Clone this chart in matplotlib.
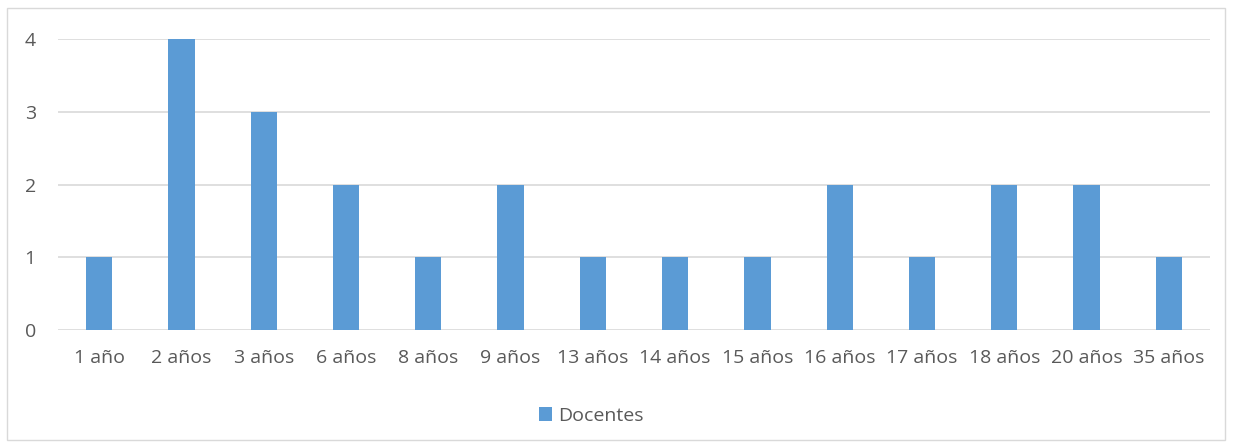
import matplotlib.pyplot as plt
from matplotlib.patches import Rectangle

categorias = ['1 año', '2 años', '3 años', '6 años', '8 años', '9 años', '13 años',
              '14 años', '15 años', '16 años', '17 años', '18 años', '20 años', '35 años']
docentes = [1, 4, 3, 2, 1, 2, 1, 1, 1, 2, 1, 2, 2, 1]
yticks = [0, 1, 2, 3, 4]

plt.rcParams['font.family'] = ['Open Sans', 'DejaVu Sans']
texto = '#595959'
W, H = 1233, 448

fig = plt.figure(figsize=(W / 100, H / 100), dpi=100)
fig.patches.append(Rectangle((7 / W, 8 / H), 1218 / W, 432 / H, transform=fig.transFigure,
                             fill=False, edgecolor='#D9D9D9', linewidth=1))

ax = fig.add_axes([58 / W, 1 - 330 / H, (1210 - 58) / W, (330 - 39) / H])
x = range(len(categorias))
ax.bar(x, docentes, width=0.32, color='#5B9BD5', label='Docentes', zorder=3)
ax.set_xlim(-0.5, len(categorias) - 0.5)
ax.set_ylim(0, 4)
ax.set_yticks(yticks)
ax.set_xticks(list(x))
ax.set_xticklabels(categorias)
ax.grid(axis='y', color='#D9D9D9', linewidth=1.2, zorder=0)
for s in ax.spines.values():
    s.set_visible(False)
ax.tick_params(length=0, labelsize=14, labelcolor=texto)
ax.tick_params(axis='y', pad=16)
ax.tick_params(axis='x', pad=14)

fig.legend(loc='center', bbox_to_anchor=(591 / W, 1 - 416 / H), frameon=False,
           fontsize=14, labelcolor=texto, handlelength=0.7, handleheight=0.7,
           handletextpad=0.3)

fig.savefig('out.png', dpi=100)
